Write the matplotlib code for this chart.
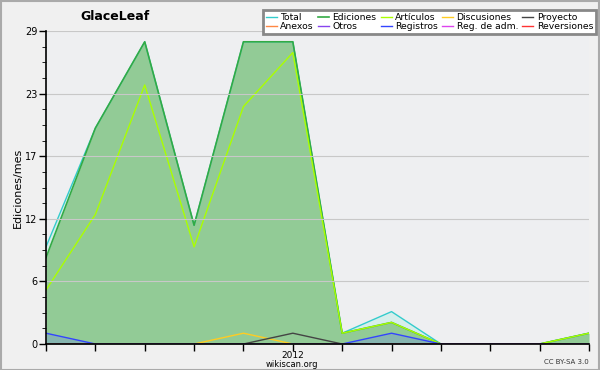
import numpy as np
import matplotlib.pyplot as plt
from matplotlib.patches import Rectangle

# months Aug 2011 .. Jul 2012
months = np.arange(12)
tick_labels = ['', '', '', '', '', '2012', '', '', '', '', '', '']

total       = [9, 20, 28, 11, 28, 28, 1, 3, 0, 0, 0, 1]
ediciones   = [8, 20, 28, 11, 28, 28, 1, 2, 0, 0, 0, 1]
articulos   = [5, 12, 24, 9, 22, 27, 1, 2, 0, 0, 0, 1]
discusiones = [0, 0, 0, 0, 1, 0, 0, 0, 0, 0, 0, 0]
proyecto    = [0, 0, 0, 0, 0, 1, 0, 0, 0, 0, 0, 0]
registros   = [1, 0, 0, 0, 0, 0, 0, 1, 0, 0, 0, 0]
anexos      = [0] * 12
otros       = [0] * 12
reg_adm     = [0] * 12
reversiones = [0] * 12

fig = plt.figure(figsize=(6, 3.7), dpi=100, facecolor='#f0f0f0')
ax = fig.add_axes([46/600, 1-344/370, 543/600, 313/370])
ax.set_facecolor('#eeeff1')

# fills
ax.fill_between(months, total, color='#bfeee6', alpha=0.5, lw=0)
ax.fill_between(months, ediciones, color='#92cb96', lw=0)
ax.fill_between(months, registros, color='#6677ff', alpha=0.25, lw=0)

# lines
h = {}
h['Total'], = ax.plot(months, total, color='#33cccc', lw=1)
h['Ediciones'], = ax.plot(months, ediciones, color='#33aa44', lw=1.2)
h['Artículos'], = ax.plot(months, articulos, color='#aaff00', lw=1)
h['Discusiones'], = ax.plot(months, discusiones, color='#ffcc22', lw=1)
h['Proyecto'], = ax.plot(months, proyecto, color='#444444', lw=1)
h['Anexos'], = ax.plot(months, anexos, color='#ff8844', lw=1)
h['Otros'], = ax.plot(months, otros, color='#8844ee', lw=1)
h['Registros'], = ax.plot(months, registros, color='#3344ff', lw=1)
h['Reg. de adm.'], = ax.plot(months, reg_adm, color='#dd44ee', lw=1)
h['Reversiones'], = ax.plot(months, reversiones, color='#ff3333', lw=1)

ax.set_xlim(0, 11)
ax.set_ylim(0, 29)
ymaj = np.linspace(0, 29, 6)
ax.set_yticks(ymaj)
ax.set_yticklabels(['0', '6', '12', '17', '23', '29'])
ax.set_yticks(np.linspace(0, 29, 21), minor=True)
ax.set_xticks(months)
ax.set_xticklabels(tick_labels)
ax.yaxis.grid(True, color='#c8c8c8', lw=0.8)
ax.set_axisbelow(False)
for l in ax.get_ygridlines():
    l.set_zorder(0.5)
ax.tick_params(axis='both', labelsize=7, length=5, width=1, color='black', pad=1)
ax.tick_params(axis='x', pad=0, labelsize=6.5)
ax.tick_params(axis='y', which='minor', length=3)
for s in ['top', 'right']:
    ax.spines[s].set_visible(False)
for s in ['left', 'bottom']:
    ax.spines[s].set_linewidth(1.2)
    ax.spines[s].set_zorder(5)

ax.set_ylabel('Ediciones/mes', fontsize=8, labelpad=2)
fig.text(115/600, 1-17/370, 'GlaceLeaf', fontsize=9, fontweight='bold', ha='center', va='center')
fig.text(292/600, 1-364.5/370, 'wikiscan.org', fontsize=6, ha='center', va='center')
fig.text(589/600, 1-362/370, 'CC BY-SA 3.0', fontsize=5, ha='right', va='center', color='#333333')

order = ['Total', 'Anexos', 'Ediciones', 'Otros', 'Artículos', 'Registros',
         'Discusiones', 'Reg. de adm.', 'Proyecto', 'Reversiones']
leg = fig.legend([h[k] for k in order], order, ncol=5, fontsize=6.7,
                 loc='upper right', bbox_to_anchor=(596/600, 1-10/370),
                 frameon=True, fancybox=False, shadow=False,
                 handlelength=1.2, handletextpad=0.35, columnspacing=0.45,
                 labelspacing=0.0, borderpad=0.3, borderaxespad=0)
leg.get_frame().set_edgecolor('#888888')
leg.get_frame().set_linewidth(2)
leg.get_frame().set_facecolor('white')
leg.get_frame().set_alpha(1)

fig.patches.append(Rectangle((0.001, 0.001), 0.997, 0.996, transform=fig.transFigure,
                             fill=False, edgecolor='#aaaaaa', lw=1.5))

fig.savefig('out.png', dpi=100, facecolor=fig.get_facecolor())
